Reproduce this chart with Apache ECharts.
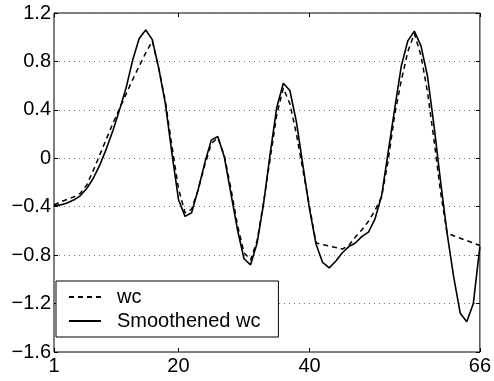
<!DOCTYPE html>
<html>
<head>
<meta charset="utf-8">
<script src="https://cdn.jsdelivr.net/npm/echarts@6/dist/echarts.min.js"></script>
<style>
html,body{margin:0;padding:0;background:#fff;}
#chart{width:494px;height:381px;}
</style>
</head>
<body>
<div id="chart"></div>
<script>
const xTickLabels = [1, 20, 40, 66];
const yTickLabels = [-1.6, -1.2, -0.8, -0.4, 0, 0.4, 0.8, 1.2];

const smoothX = [1,2,3,4,5,6,7,8,9,10,11,12,13,14,15,16,17,18,19,20,21,22,23,24,25,26,27,28,29,30,31,32,33,34,35,36,37,38,39,40,41,42,43,44,45,46,47,48,49,50,51,52,53,54,55,56,57,58,59,60,61,62,63,64,65,66];
const smoothY = [-0.39,-0.385,-0.37,-0.345,-0.31,-0.25,-0.165,-0.055,0.08,0.23,0.40,0.58,0.81,0.99,1.06,0.98,0.74,0.45,0.04,-0.34,-0.48,-0.45,-0.26,-0.04,0.15,0.18,0.01,-0.29,-0.59,-0.83,-0.88,-0.70,-0.37,0.04,0.42,0.62,0.56,0.30,-0.06,-0.42,-0.71,-0.86,-0.905,-0.85,-0.78,-0.73,-0.70,-0.645,-0.61,-0.50,-0.31,0.05,0.41,0.76,0.97,1.05,0.93,0.68,0.27,-0.19,-0.62,-0.98,-1.28,-1.35,-1.20,-0.73];

const wcX = [1,2,3,4,5,6,7,8,9,10,11,12,13,14,15,16,17,18,19,20,21,22,23,24,25,26,27,28,29,30,31,32,33,34,35,36,37,38,39,40,41,45,46,47,48,49,50,51,52,53,54,55,56,57,58,59,60,61,66];
const wcY = [-0.385,-0.36,-0.34,-0.32,-0.29,-0.22,-0.10,0.03,0.16,0.29,0.41,0.53,0.65,0.76,0.87,0.97,0.74,0.47,0.10,-0.25,-0.45,-0.42,-0.26,-0.06,0.12,0.17,0.02,-0.25,-0.55,-0.78,-0.84,-0.68,-0.36,0.00,0.36,0.58,0.45,0.20,-0.10,-0.40,-0.70,-0.75,-0.72,-0.65,-0.59,-0.52,-0.43,-0.32,-0.02,0.36,0.64,0.88,1.03,0.85,0.55,0.15,-0.28,-0.62,-0.72];

const seriesNames = ['wc', 'Smoothened wc'];

const FONT = 'Liberation Sans, Arial, Helvetica, sans-serif';
const chart = echarts.init(document.getElementById('chart'), null, {renderer: 'canvas'});

function yFmt(v) {
  const r = Math.round(v * 10) / 10;
  if (r === 0) return '0';
  return r.toFixed(1).replace('-', '\u2212');
}

const xMin = xTickLabels[0], xMax = xTickLabels[xTickLabels.length - 1];
const yMin = yTickLabels[0], yMax = yTickLabels[yTickLabels.length - 1];

const option = {
  animation: false,
  backgroundColor: '#fff',
  grid: {left: 54, right: 9, top: 13, bottom: 29, show: true, borderColor: '#000', borderWidth: 1, backgroundColor: 'transparent'},
  xAxis: [{
    type: 'value', min: xMin, max: xMax, position: 'bottom',
    axisLine: {show: false, onZero: false},
    axisTick: {show: true, inside: true, length: 4, lineStyle: {color: '#000'}, customValues: xTickLabels},
    axisLabel: {color: '#000', fontFamily: FONT, fontSize: 20, margin: 4, customValues: xTickLabels, showMinLabel: true, showMaxLabel: true},
    splitLine: {show: false}
  }, {
    type: 'value', min: xMin, max: xMax, position: 'top',
    axisLine: {show: false, onZero: false},
    axisTick: {show: true, inside: true, length: 4, lineStyle: {color: '#000'}, customValues: xTickLabels},
    axisLabel: {show: false},
    splitLine: {show: false}
  }],
  yAxis: [{
    type: 'value', min: yMin, max: yMax, interval: 0.4, position: 'left',
    axisLine: {show: false, onZero: false},
    axisTick: {show: true, inside: true, length: 4, lineStyle: {color: '#000'}},
    axisLabel: {color: '#000', fontFamily: FONT, fontSize: 20, margin: 3, formatter: yFmt},
    splitLine: {show: true, lineStyle: {color: '#777', width: 1, type: [1, 4]}}
  }, {
    type: 'value', min: yMin, max: yMax, interval: 0.4, position: 'right',
    axisLine: {show: false, onZero: false},
    axisTick: {show: true, inside: true, length: 4, lineStyle: {color: '#000'}},
    axisLabel: {show: false},
    splitLine: {show: false}
  }],
  legend: {
    orient: 'vertical',
    left: 56, top: 281,
    backgroundColor: '#fff',
    borderColor: '#000', borderWidth: 1,
    padding: [6, 18, 6, 12],
    itemWidth: 32, itemHeight: 14, itemGap: 4,
    itemStyle: {opacity: 0},
    textStyle: {color: '#000', fontFamily: FONT, fontSize: 20, padding: [0, 0, 0, 11]},
    data: seriesNames
  },
  series: [{
    name: seriesNames[0], type: 'line',
    data: wcX.map((x, i) => [x, wcY[i]]),
    showSymbol: false, symbol: 'none',
    lineStyle: {color: '#000', width: 1.5, type: [5, 4]},
    itemStyle: {color: '#000'}
  }, {
    name: seriesNames[1], type: 'line',
    data: smoothX.map((x, i) => [x, smoothY[i]]),
    showSymbol: false, symbol: 'none',
    lineStyle: {color: '#000', width: 1.6, type: 'solid'},
    itemStyle: {color: '#000'}
  }]
};
chart.setOption(option);
</script>
</body>
</html>
